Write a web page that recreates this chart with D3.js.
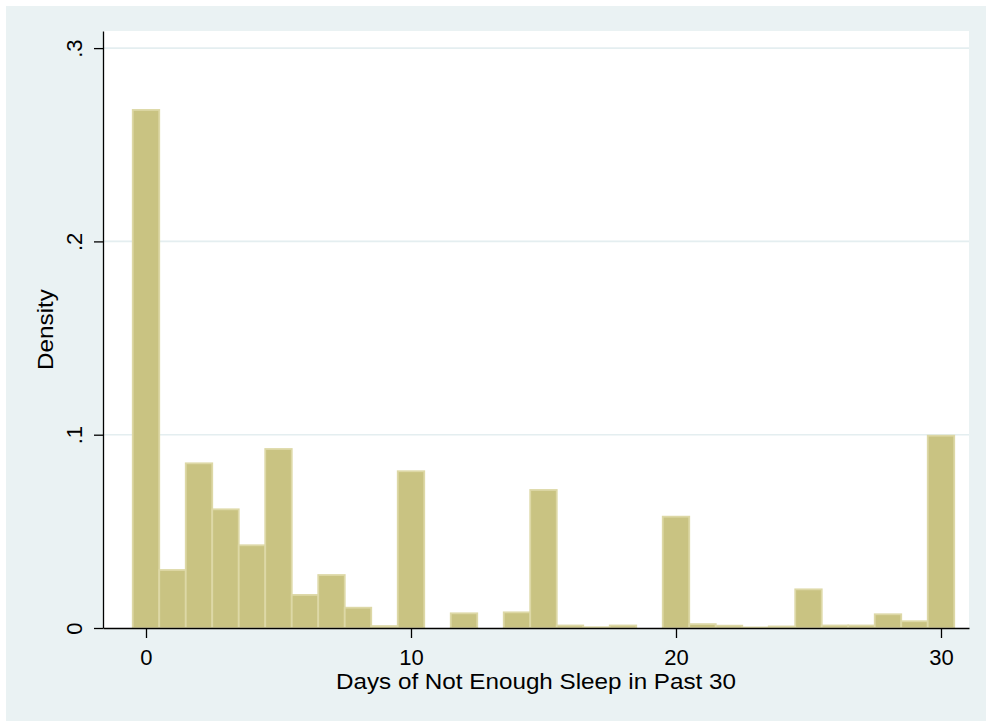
<!DOCTYPE html>
<html>
<head>
<meta charset="utf-8">
<script src="https://cdn.jsdelivr.net/npm/d3@7"></script>
<style>
  html, body { margin: 0; padding: 0; background: #ffffff; }
  svg { display: block; font-family: "Liberation Sans", Arial, sans-serif; }
</style>
</head>
<body>
<svg id="chart" width="986" height="721"></svg>
<script>
// Days (bin centers, bin width 1)
const days = [0,1,2,3,4,5,6,7,8,9,10,11,12,13,14,15,16,17,18,19,20,21,22,23,24,25,26,27,28,29,30];
// Density per bin
const density = [0.268,0.030,0.0852,0.0614,0.0428,0.0926,0.0171,0.0274,0.0105,0.001,0.0811,0,0.0076,0,0.0081,0.0714,0.0013,0.0004,0.0013,0,0.0576,0.002,0.0012,0.0003,0.0008,0.020,0.0013,0.0013,0.0071,0.0035,0.0995];
const xTicks = [0, 10, 20, 30];
const yTicks = [0, 0.1, 0.2, 0.3];
const yTickLabels = ["0", ".1", ".2", ".3"];
const xTitle = "Days of Not Enough Sleep in Past 30";
const yTitle = "Density";

const W = 986, H = 721;
const plot = { left: 103, right: 969, top: 31, bottom: 628 };
const svg = d3.select("#chart");

// backgrounds
svg.append("rect").attr("x", 6).attr("y", 6).attr("width", W - 6).attr("height", H - 6).attr("fill", "#eaf2f3");
svg.append("rect").attr("x", plot.left).attr("y", plot.top)
  .attr("width", plot.right - plot.left).attr("height", plot.bottom - plot.top).attr("fill", "#ffffff");

const x = d3.scaleLinear().domain([-1.6226, 31.057]).range([plot.left, plot.right]);
const y = d3.scaleLinear().domain([0, 0.30885]).range([plot.bottom, plot.top]);

// gridlines
svg.append("g").selectAll("line").data(yTicks.filter(d => d > 0)).join("line")
  .attr("x1", plot.left).attr("x2", plot.right)
  .attr("y1", d => y(d)).attr("y2", d => y(d))
  .attr("stroke", "#e4eef0").attr("stroke-width", 1.6);

// bars
svg.append("g").selectAll("rect").data(days.map((d, i) => ({ d, v: density[i] })).filter(o => o.v > 0)).join("rect")
  .attr("x", o => x(o.d - 0.5))
  .attr("width", o => x(o.d + 0.5) - x(o.d - 0.5))
  .attr("y", o => y(o.v))
  .attr("height", o => y(0) - y(o.v))
  .attr("fill", "#c9c382")
  .attr("stroke", "#ddd8a6")
  .attr("stroke-width", 1.8);

// x axis
const xAxis = svg.append("g").attr("transform", `translate(0,${plot.bottom})`)
  .call(d3.axisBottom(x).tickValues(xTicks).tickFormat(d3.format("d")).tickSize(10).tickSizeOuter(0));
xAxis.select(".domain").attr("stroke", "#000").attr("stroke-width", 1.3);
xAxis.selectAll(".tick line").attr("stroke", "#000").attr("stroke-width", 1.3);
xAxis.selectAll(".tick text").attr("y", 37).attr("dy", 0)
  .attr("font-size", 22).attr("fill", "#000").attr("font-family", "Liberation Sans, Arial, sans-serif");

// y axis
const yAxis = svg.append("g").attr("transform", `translate(${plot.left},0)`)
  .call(d3.axisLeft(y).tickValues(yTicks).tickFormat((d, i) => yTickLabels[i]).tickSize(9).tickSizeOuter(0));
yAxis.select(".domain").attr("stroke", "#000").attr("stroke-width", 1.3);
yAxis.selectAll(".tick line").attr("stroke", "#000").attr("stroke-width", 1.3);
yAxis.selectAll(".tick text")
  .attr("x", 0).attr("y", 0).attr("dy", 0)
  .attr("text-anchor", "middle")
  .attr("transform", "translate(-21,0) rotate(-90)")
  .attr("font-size", 22).attr("fill", "#000").attr("font-family", "Liberation Sans, Arial, sans-serif");

// titles
svg.append("text").attr("x", (plot.left + plot.right) / 2).attr("y", 689)
  .attr("text-anchor", "middle").attr("font-size", 22.5).attr("fill", "#000")
  .attr("textLength", 400).attr("lengthAdjust", "spacingAndGlyphs").text(xTitle);
svg.append("text").attr("transform", `translate(53,${(plot.top + plot.bottom) / 2}) rotate(-90)`)
  .attr("text-anchor", "middle").attr("font-size", 22.5).attr("fill", "#000")
  .attr("textLength", 81).attr("lengthAdjust", "spacingAndGlyphs").text(yTitle);
</script>
</body>
</html>
